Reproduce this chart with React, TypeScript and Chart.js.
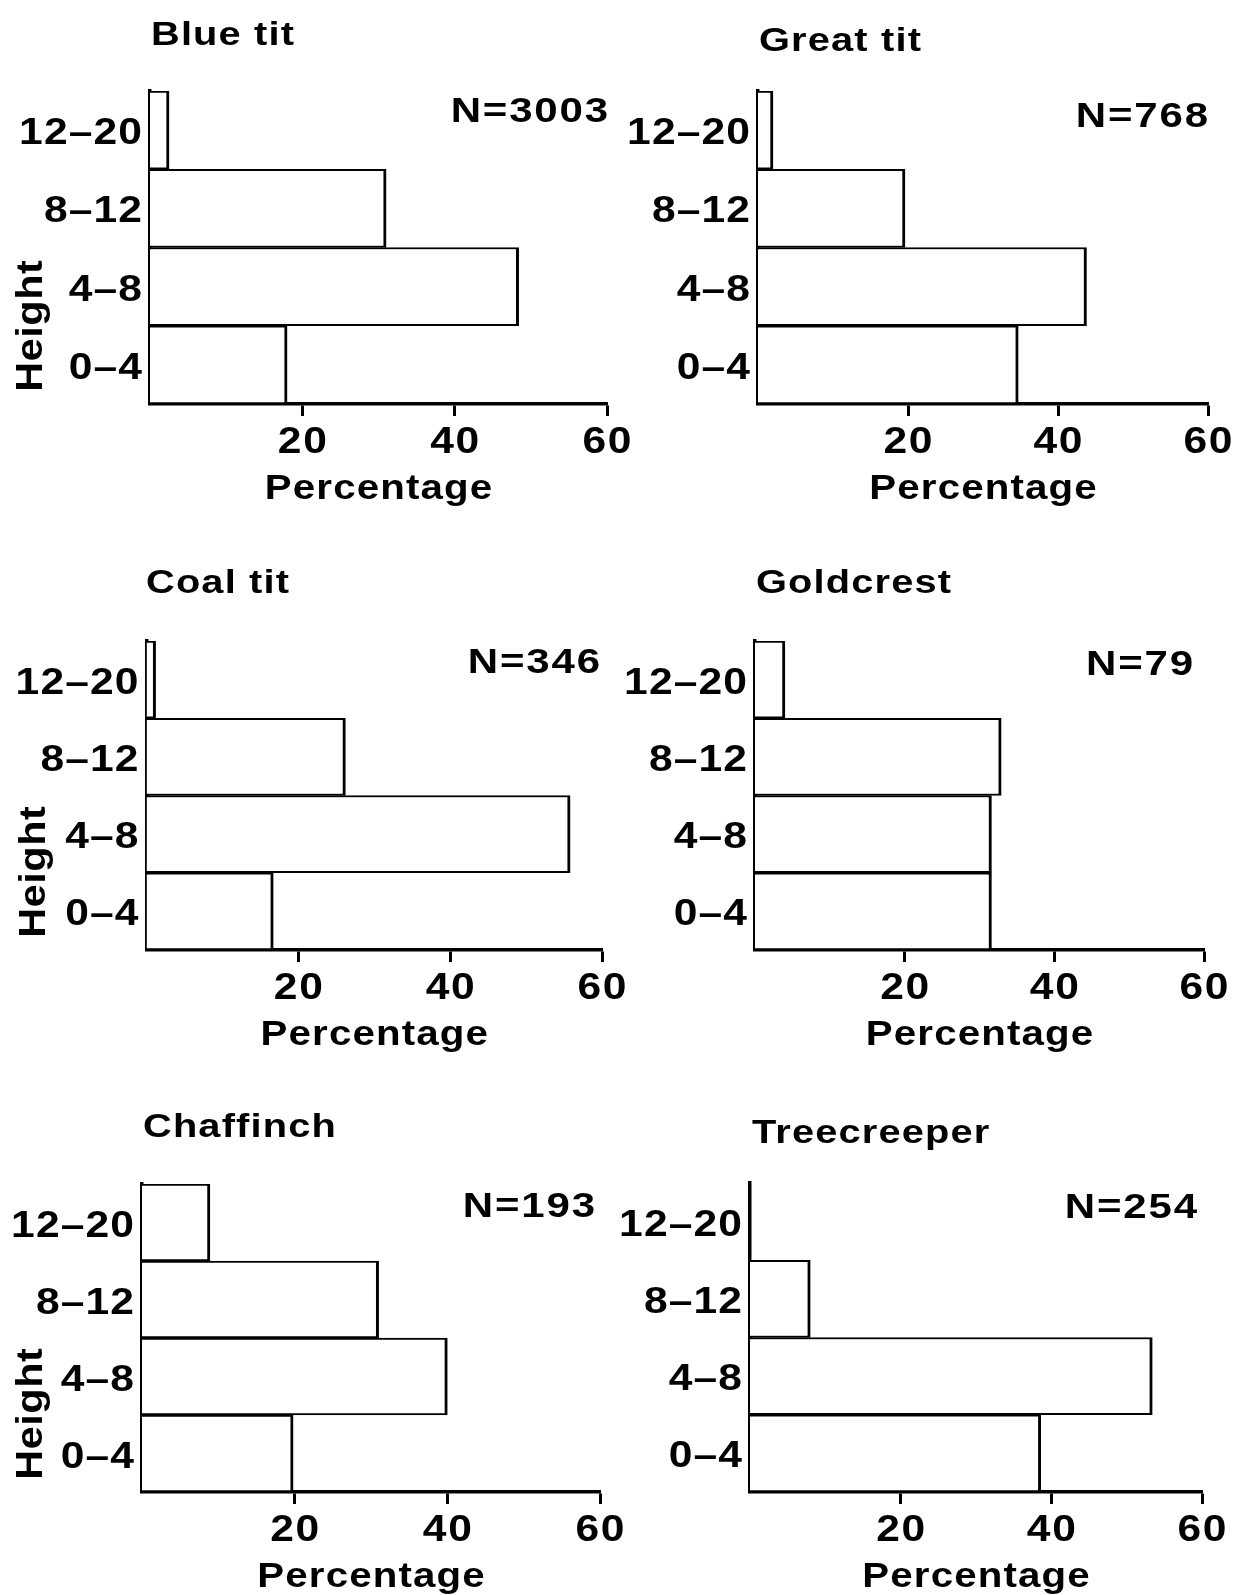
import React, { useEffect, useRef } from 'react';
import { Chart, registerables } from 'chart.js';

Chart.register(...registerables);

// ---------- data ----------
const heightBands = ['12–20', '8–12', '4–8', '0–4'];
const speciesNames = ['Blue tit', 'Great tit', 'Coal tit', 'Goldcrest', 'Chaffinch', 'Treecreeper'];
const sampleSizes = [3003, 768, 346, 79, 193, 254];
const blueTit = [2.5, 31.0, 48.4, 18.0];
const greatTit = [2.0, 19.6, 43.8, 34.7];
const coalTit = [1.2, 26.2, 55.8, 16.7];
const goldcrest = [4.0, 32.9, 31.6, 31.6];
const chaffinch = [8.9, 31.0, 40.0, 19.8];
const treecreeper = [0, 8.0, 53.4, 38.6];
const xTickValues = [20, 40, 60];
const xMin = 0;
const xMax = 60;
const xTitle = 'Percentage';
const yTitle = 'Height';

const speciesValues = [blueTit, greatTit, coalTit, goldcrest, chaffinch, treecreeper];

// ---------- layout (page pixels) ----------
const PAGE_W = 1235;
const PAGE_H = 1595;
const FONT = '"Liberation Sans", Arial, Helvetica, sans-serif';

type PanelLayout = {
  x0: number; x60: number; top: number; bottom: number;
  titleX: number; titleBase: number; nRight: number; nBase: number;
  heightX: number | null;
};

const layout: PanelLayout[] = [
  { x0: 150, x60: 607, top: 91, bottom: 404, titleX: 151, titleBase: 45, nRight: 608, nBase: 122, heightX: 42 },
  { x0: 758, x60: 1208, top: 91, bottom: 404, titleX: 759, titleBase: 51, nRight: 1208, nBase: 127, heightX: null },
  { x0: 146.5, x60: 602, top: 641, bottom: 950, titleX: 146, titleBase: 593, nRight: 600, nBase: 673, heightX: 45 },
  { x0: 755, x60: 1204, top: 641, bottom: 950, titleX: 756, titleBase: 593, nRight: 1193, nBase: 675, heightX: null },
  { x0: 142, x60: 600, top: 1184, bottom: 1492, titleX: 143, titleBase: 1137, nRight: 595, nBase: 1217, heightX: 42 },
  { x0: 750, x60: 1202, top: 1183, bottom: 1492, titleX: 752, titleBase: 1143, nRight: 1197, nBase: 1218, heightX: null },
];

type TextOpts = { size: number; align: 'left' | 'center' | 'right'; spacing: number; stretch: number; rotate?: boolean };

function drawText(ctx: CanvasRenderingContext2D, text: string, x: number, y: number, o: TextOpts) {
  ctx.save();
  ctx.translate(x, y);
  if (o.rotate) ctx.rotate(-Math.PI / 2);
  ctx.scale(o.stretch, 1);
  ctx.font = `bold ${o.size}px ${FONT}`;
  ctx.fillStyle = '#000';
  ctx.textAlign = 'left';
  ctx.textBaseline = 'alphabetic';
  (ctx as any).letterSpacing = '0px';
  const w0 = ctx.measureText(text).width;
  const w = w0 + o.spacing * (text.length - 1);
  let off = 0;
  if (o.align === 'center') off = -w / 2;
  else if (o.align === 'right') off = -w;
  (ctx as any).letterSpacing = `${o.spacing}px`;
  ctx.fillText(text, off, 0);
  ctx.restore();
}

function makeTextPlugin(i: number) {
  return {
    id: 'panelText' + i,
    afterDraw(chart: any) {
      const ctx: CanvasRenderingContext2D = chart.ctx;
      const L = layout[i];
      const xs = chart.scales.x;
      const ys = chart.scales.y;
      const area = chart.chartArea;
      drawText(ctx, speciesNames[i], L.titleX, L.titleBase, { size: 34, align: 'left', spacing: 1, stretch: 1.17 });
      drawText(ctx, 'N=' + sampleSizes[i], L.nRight, L.nBase, { size: 35, align: 'right', spacing: 1.5, stretch: 1.2 });
      heightBands.forEach((b, k) => {
        drawText(ctx, b, area.left - 8, ys.getPixelForValue(k) + 14, { size: 37, align: 'right', spacing: 1, stretch: 1.15 });
      });
      xTickValues.forEach((v) => {
        drawText(ctx, String(v), xs.getPixelForValue(v), area.bottom + 49, { size: 37, align: 'center', spacing: 1.5, stretch: 1.15 });
      });
      drawText(ctx, xTitle, (area.left + area.right) / 2, area.bottom + 95, { size: 35, align: 'center', spacing: 1, stretch: 1.15 });
      if (L.heightX !== null) {
        drawText(ctx, yTitle, L.heightX, area.bottom - 78, { size: 36, align: 'center', spacing: 0.5, stretch: 1.15, rotate: true });
      }
    },
  };
}

function Panel({ index }: { index: number }) {
  const ref = useRef<HTMLCanvasElement>(null);
  useEffect(() => {
    const L = layout[index];
    const chart = new Chart(ref.current as HTMLCanvasElement, {
      type: 'bar',
      data: {
        labels: heightBands,
        datasets: [
          {
            data: speciesValues[index],
            backgroundColor: '#ffffff',
            borderColor: '#000000',
            borderWidth: { top: 2, bottom: 2, right: 3, left: 0 },
            borderSkipped: false,
            categoryPercentage: 1,
            barPercentage: 1,
          } as any,
        ],
      },
      options: {
        indexAxis: 'y',
        responsive: false,
        animation: false,
        devicePixelRatio: 1,
        events: [],
        layout: {
          padding: { left: L.x0, right: PAGE_W - L.x60, top: L.top, bottom: PAGE_H - L.bottom },
        },
        plugins: {
          legend: { display: false },
          tooltip: { enabled: false },
          title: { display: false },
        },
        scales: {
          x: {
            type: 'linear',
            position: 'bottom',
            min: xMin,
            max: xMax,
            afterBuildTicks: (s: any) => {
              s.ticks = xTickValues.map((v) => ({ value: v }));
            },
            afterFit: (s: any) => {
              s.height = 0;
            },
            ticks: { display: false },
            grid: { display: true, drawOnChartArea: false, drawTicks: true, tickLength: 12, tickWidth: 3, tickColor: '#000' },
            border: { display: true, color: '#000', width: 3.5 },
          },
          y: {
            type: 'category',
            position: 'left',
            afterFit: (s: any) => {
              s.width = 0;
            },
            ticks: { display: false },
            grid: { display: true, drawOnChartArea: false, drawTicks: false },
            border: { display: true, color: '#000', width: 3.5 },
          },
        },
      } as any,
      plugins: [makeTextPlugin(index)],
    });
    return () => chart.destroy();
  }, [index]);
  return (
    <canvas
      ref={ref}
      width={PAGE_W}
      height={PAGE_H}
      style={{ position: 'absolute', left: 0, top: 0, width: PAGE_W, height: PAGE_H, pointerEvents: 'none' }}
    />
  );
}

export default function App() {
  return (
    <div style={{ position: 'absolute', left: 0, top: 0, width: PAGE_W, height: PAGE_H, background: '#ffffff', overflow: 'hidden' }}>
      {layout.map((_, i) => (
        <Panel key={i} index={i} />
      ))}
    </div>
  );
}
